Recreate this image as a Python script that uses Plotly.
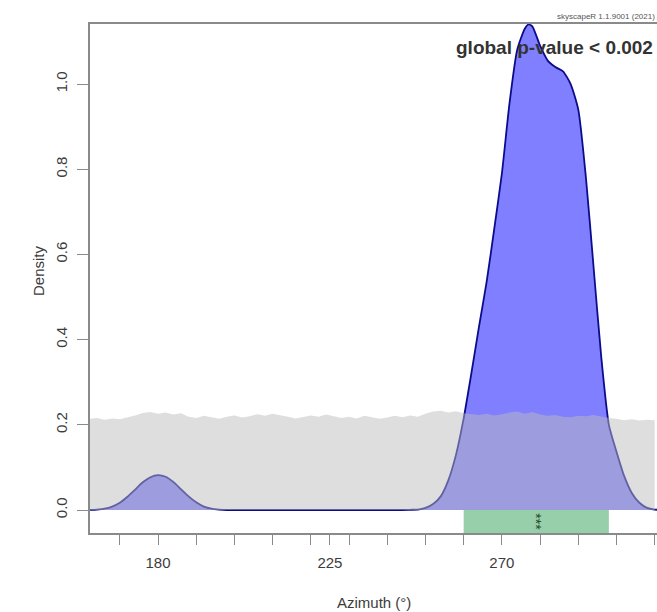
import plotly.graph_objects as go

# ---- data ----
blue_az = [162, 164, 166, 168, 170, 172, 174, 176, 178, 180, 182, 184, 186, 188, 190,
           192, 194, 196, 198, 200, 210, 220, 230, 240, 244, 246, 248, 250, 252, 254,
           256, 258, 260, 262, 264, 266, 268, 270, 272, 274, 276, 277, 278, 280, 282,
           284, 286, 288, 290, 292, 294, 296, 298, 300, 302, 304, 306, 308, 310, 312]
blue_dens = [0.0, 0.001, 0.003, 0.008, 0.017, 0.031, 0.048, 0.065, 0.077, 0.082, 0.078,
             0.066, 0.049, 0.032, 0.018, 0.008, 0.003, 0.001, 0.0, 0.0, 0.0, 0.0, 0.0,
             0.0, 0.0, 0.0005, 0.001, 0.005, 0.014, 0.032, 0.07, 0.13, 0.215, 0.32,
             0.43, 0.535, 0.66, 0.79, 0.955, 1.08, 1.13, 1.14, 1.135, 1.09, 1.055,
             1.04, 1.03, 1.0, 0.94, 0.78, 0.57, 0.36, 0.20, 0.137, 0.08, 0.04, 0.017,
             0.005, 0.001, 0.0]

gray_az = list(range(162, 312, 2))
gray_upper = [0.214, 0.216, 0.212, 0.215, 0.213, 0.217, 0.222, 0.228, 0.230, 0.226,
              0.229, 0.224, 0.227, 0.219, 0.216, 0.221, 0.218, 0.214, 0.219, 0.222,
              0.217, 0.220, 0.225, 0.221, 0.226, 0.223, 0.219, 0.215, 0.218, 0.222,
              0.219, 0.224, 0.220, 0.216, 0.219, 0.215, 0.221, 0.218, 0.214, 0.217,
              0.221, 0.218, 0.222, 0.219, 0.226, 0.231, 0.233, 0.229, 0.232, 0.227,
              0.225, 0.223, 0.226, 0.222, 0.225, 0.229, 0.231, 0.226, 0.230, 0.224,
              0.221, 0.223, 0.219, 0.218, 0.221, 0.220, 0.223, 0.219, 0.216, 0.214,
              0.211, 0.213, 0.210, 0.212, 0.211]

sig_interval = [260, 298]
sig_label = "***"

x_tick_vals = [170, 180, 190, 200, 210, 220, 225, 230, 240, 250, 260, 270, 280, 290, 300, 310]
x_tick_text = ["", "180", "", "", "", "", "225", "", "", "", "", "270", "", "", "", ""]
y_tick_vals = [0.0, 0.2, 0.4, 0.6, 0.8, 1.0]
y_tick_text = ["0.0", "0.2", "0.4", "0.6", "0.8", "1.0"]

p_text = "global p-value < 0.002"
version_text = "skyscapeR 1.1.9001 (2021)"
x_title = "Azimuth (°)"
y_title = "Density"

# ---- figure ----
FONT = "Liberation Sans, Arial, Helvetica, sans-serif"
AXC = "#8a8a8a"
x_range = [162.2, 310.6]
y_range = [-0.054, 1.141]

fig = go.Figure()
fig.add_trace(go.Scatter(
    x=blue_az, y=blue_dens, mode="lines",
    line=dict(color="#0c0c8a", width=1.8, shape="spline", smoothing=0.6),
    fill="tozeroy", fillcolor="rgba(0,0,255,0.5)", hoverinfo="skip", showlegend=False))
fig.add_trace(go.Scatter(
    x=gray_az, y=gray_upper, mode="lines", line=dict(width=0),
    fill="tozeroy", fillcolor="rgba(188,188,188,0.49)", hoverinfo="skip", showlegend=False))

fig.add_shape(type="rect", xref="x", yref="y",
              x0=sig_interval[0], x1=sig_interval[1], y0=y_range[0], y1=0,
              fillcolor="#96cfaa", line=dict(width=0), layer="below")

fig.add_annotation(x=(sig_interval[0] + sig_interval[1]) / 2, y=y_range[0] / 2,
                   xref="x", yref="y", text=sig_label, textangle=90, showarrow=False,
                   font=dict(family=FONT, size=14, color="#1f4a2c"))

fig.add_annotation(x=0.9965, y=1 - (48 - 24) / 509, xref="paper", yref="paper",
                   xanchor="right", yanchor="middle", text="<b>" + p_text + "</b>",
                   showarrow=False, font=dict(family=FONT, size=19, color="#333333"))
fig.add_annotation(x=(555 - 90) / 567, y=1 + (24 - 17) / 509, xref="paper", yref="paper",
                   xanchor="left", yanchor="middle", text=version_text,
                   showarrow=False, font=dict(family=FONT, size=8, color="#555555"))
fig.add_annotation(x=(374 - 90) / 567, y=-(602 - 533) / 509, xref="paper", yref="paper",
                   xanchor="center", yanchor="middle", text=x_title,
                   showarrow=False, font=dict(family=FONT, size=15, color="#3c3c3c"))
fig.add_annotation(x=-(90 - 38) / 567, y=(533 - 271) / 509, xref="paper", yref="paper",
                   xanchor="center", yanchor="middle", text=y_title, textangle=-90,
                   showarrow=False, font=dict(family=FONT, size=15, color="#3c3c3c"))

fig.update_layout(
    width=657, height=612,
    margin=dict(l=90, r=0, t=24, b=79),
    paper_bgcolor="white", plot_bgcolor="white",
    font=dict(family=FONT, size=15, color="#3c3c3c"),
    xaxis=dict(range=x_range, tickvals=x_tick_vals, ticktext=x_tick_text,
               ticks="outside", ticklen=10, tickwidth=1.2, tickcolor=AXC,
               showline=True, linecolor=AXC, linewidth=1.5, mirror=True,
               showgrid=False, zeroline=False, ticklabelstandoff=5,
               tickfont=dict(family=FONT, size=15, color="#3c3c3c")),
    yaxis=dict(range=y_range, tickvals=y_tick_vals, ticktext=y_tick_text,
               tickangle=-90, ticks="outside", ticklen=11, tickwidth=1.2, tickcolor=AXC,
               showline=True, linecolor=AXC, linewidth=1.5, mirror=False,
               showgrid=False, zeroline=False, ticklabelstandoff=4,
               tickfont=dict(family=FONT, size=15, color="#3c3c3c")),
)

fig.write_html("out.html", config={"displayModeBar": False},
               post_script="document.body.style.margin='0';document.body.style.overflow='hidden';")
